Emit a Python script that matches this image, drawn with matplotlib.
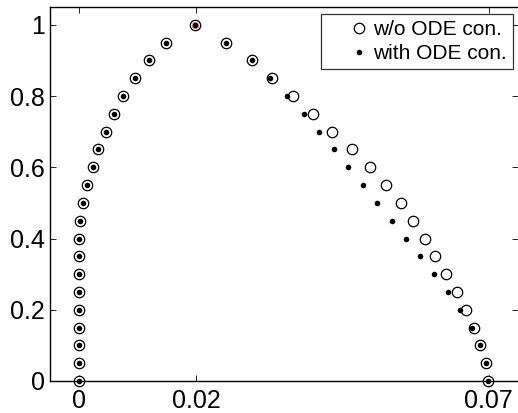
import numpy as np
import matplotlib.pyplot as plt

plt.rcParams['font.family'] = ['Liberation Sans', 'DejaVu Sans']

# y levels (shared by both branches)
y_left = [0, 0.05, 0.1, 0.15, 0.2, 0.25, 0.3, 0.35, 0.4, 0.45, 0.5,
          0.55, 0.6, 0.65, 0.7, 0.75, 0.8, 0.85, 0.9, 0.95, 1.0]
x_left = [0, 0, 0, 0, 0, 0, 0, 0, 0, 0.0002, 0.00074,
          0.0014, 0.0024, 0.0033, 0.00456, 0.0059, 0.0076, 0.0095, 0.012, 0.0149, 0.0198]

y_right = [0.95, 0.9, 0.85, 0.8, 0.75, 0.7, 0.65, 0.6, 0.55, 0.5,
           0.45, 0.4, 0.35, 0.3, 0.25, 0.2, 0.15, 0.1, 0.05, 0.0]
# w/o ODE constraint
x_right_open = [0.0251, 0.0295, 0.0330, 0.0366, 0.0399, 0.0433, 0.0466, 0.0497, 0.0524, 0.0550,
                0.0571, 0.0591, 0.0609, 0.0627, 0.0646, 0.0661, 0.0675, 0.0685, 0.0696, 0.0699]
# with ODE constraint
x_right_dot = [0.0251, 0.0295, 0.0327, 0.0356, 0.0384, 0.0410, 0.0436, 0.0460, 0.0485, 0.0509,
               0.0534, 0.0559, 0.0583, 0.0607, 0.0630, 0.0651, 0.0672, 0.0685, 0.0696, 0.0699]

x_open = x_left + x_right_open
x_dot = x_left + x_right_dot
y_all = y_left + y_right

fig = plt.figure(figsize=(5.18, 4.13), dpi=100)
ax = fig.add_axes([49.75 / 518, 32 / 413, (518 - 49.75) / 518, 374 / 413])

ax.plot(x_open, y_all, 'o', mfc='white', mec='black', ms=7.5, mew=0.9,
        linestyle='none', label='w/o ODE con.', clip_on=False)
ax.plot([x_left[-1]], [y_left[-1]], 'o', mfc='none', mec='#d04040', ms=4.8, mew=0.4,
        linestyle='none', clip_on=False)
ax.plot(x_dot, y_all, 'o', mfc='black', mec='black', ms=4.0, mew=0,
        linestyle='none', label='with ODE con.', clip_on=False)

ax.set_xlim(-0.005, 0.075)
ax.set_ylim(0, 1.05)
ax.set_xticks([0, 0.02, 0.07])
ax.set_xticklabels(['0', '0.02', '0.07'])
ax.set_yticks([0, 0.2, 0.4, 0.6, 0.8, 1.0])
ax.set_yticklabels(['0', '0.2', '0.4', '0.6', '0.8', '1'])
ax.tick_params(direction='in', length=4, width=0.6, labelsize=18,
               top=True, right=True)
ax.tick_params(axis='x', pad=6)
ax.tick_params(axis='y', pad=3.5)
for s in ax.spines.values():
    s.set_linewidth(1.0)
ax.spines['right'].set_visible(False)

leg = ax.legend(loc='upper right', bbox_to_anchor=(0.9893, 0.9813), borderaxespad=0,
                fontsize=15, frameon=True, fancybox=False, edgecolor='black',
                handlelength=3.1, handletextpad=-0.85, borderpad=0.28, labelspacing=0.25)
leg.get_frame().set_linewidth(0.9)

fig.savefig('out.png', dpi=100)
